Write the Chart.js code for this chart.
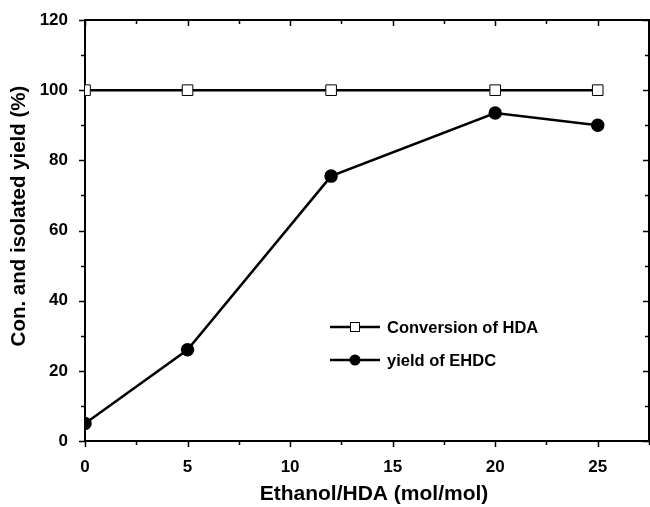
<!DOCTYPE html>
<html>
<head>
<meta charset="utf-8">
<script src="https://cdn.jsdelivr.net/npm/chart.js@4"></script>
<style>
  html, body { margin: 0; padding: 0; background: #fff; }
  #wrap { width: 650px; height: 507px; }
</style>
</head>
<body>
<div id="wrap"><canvas id="myChart" width="650" height="507"></canvas></div>
<script>
// Data
const ratios = [0, 5, 12, 20, 25];
const conversionHDA = [100, 100, 100, 100, 100];
const yieldEHDC = [5, 26, 75.5, 93.5, 90];
const xTicks = [0, 5, 10, 15, 20, 25];
const yTicks = [0, 20, 40, 60, 80, 100, 120];

const FONT = 'Liberation Sans, Arial, sans-serif';

const toPoints = (xs, ys) => xs.map((x, i) => ({ x: x, y: ys[i] }));

// Frame: top/right border, inward+outward ticks (major and minor), axis titles, legend
const framePlugin = {
    id: 'frame',
    afterDraw(chart) {
        const { ctx, chartArea: a, scales: { x, y } } = chart;
        ctx.save();
        ctx.strokeStyle = '#000';
        ctx.lineWidth = 2;
        ctx.beginPath();
        ctx.moveTo(a.left, a.top);
        ctx.lineTo(a.right, a.top);
        ctx.lineTo(a.right, a.bottom);
        ctx.stroke();

        ctx.lineWidth = 1.5;
        ctx.beginPath();
        for (let v = 0; v <= 27.5; v += 2.5) {
            const px = Math.round(x.getPixelForValue(v)) + 0.5;
            const len = v % 5 === 0 ? 6 : 4;
            ctx.moveTo(px, a.bottom); ctx.lineTo(px, a.bottom + len);
            ctx.moveTo(px, a.top); ctx.lineTo(px, a.top + len);
        }
        for (let v = 0; v <= 120; v += 10) {
            const py = Math.round(y.getPixelForValue(v)) + 0.5;
            const len = v % 20 === 0 ? 6 : 4;
            ctx.moveTo(a.left, py); ctx.lineTo(a.left - len, py);
            ctx.moveTo(a.right, py); ctx.lineTo(a.right - len, py);
        }
        ctx.stroke();

        ctx.fillStyle = '#000';
        ctx.textAlign = 'center';
        ctx.textBaseline = 'middle';

        // x axis title
        ctx.font = 'bold 21px ' + FONT;
        ctx.fillText('Ethanol/HDA (mol/mol)', 374, 494);

        // y axis title
        ctx.save();
        ctx.translate(19, 216);
        ctx.rotate(-Math.PI / 2);
        ctx.font = 'bold 20.5px ' + FONT;
        ctx.fillText('Con. and isolated yield (%)', 0, 0);
        ctx.restore();

        // legend
        const items = [
            { label: 'Conversion of HDA', style: 'rect', y: 327 },
            { label: 'yield of EHDC', style: 'circle', y: 360 }
        ];
        ctx.font = 'bold 16.5px ' + FONT;
        ctx.textAlign = 'left';
        items.forEach(it => {
            ctx.lineWidth = 2.5;
            ctx.beginPath();
            ctx.moveTo(330, it.y); ctx.lineTo(380, it.y);
            ctx.stroke();
            if (it.style === 'rect') {
                ctx.fillStyle = '#fff';
                ctx.fillRect(350, it.y - 5, 10, 10);
                ctx.lineWidth = 1;
                ctx.strokeRect(350.5, it.y - 4.5, 9, 9);
            } else {
                ctx.fillStyle = '#000';
                ctx.beginPath();
                ctx.arc(355, it.y, 5.5, 0, Math.PI * 2);
                ctx.fill();
            }
            ctx.fillStyle = '#000';
            ctx.fillText(it.label, 387, it.y + 1);
        });
        ctx.restore();
    }
};

const data = {
    datasets: [
        {
            label: 'Conversion of HDA',
            data: toPoints(ratios, conversionHDA),
            borderColor: '#000',
            borderWidth: 2.5,
            backgroundColor: '#fff',
            pointStyle: 'rect',
            pointRadius: 7.5,
            pointBorderWidth: 1,
            pointBorderColor: '#000',
            showLine: true,
            tension: 0
        },
        {
            label: 'yield of EHDC',
            data: toPoints(ratios, yieldEHDC),
            borderColor: '#000',
            borderWidth: 2.5,
            backgroundColor: '#000',
            pointStyle: 'circle',
            pointRadius: 5.5,
            showLine: true,
            tension: 0
        }
    ]
};

const config = {
    type: 'scatter',
    data: data,
    options: {
        responsive: false,
        animation: false,
        layout: { autoPadding: false, padding: { top: 20, right: 1, left: 0, bottom: 0 } },
        plugins: {
            legend: { display: false },
            tooltip: { enabled: false }
        },
        scales: {
            x: {
                type: 'linear',
                min: 0,
                max: 27.5,
                afterFit: s => {
                    s.height = 66;
                    s.paddingLeft = 0;
                    s.paddingRight = 0;
                },
                afterBuildTicks: s => { s.ticks = xTicks.map(v => ({ value: v })); },
                grid: { display: false },
                border: { display: true, color: '#000', width: 2 },
                ticks: {
                    color: '#000',
                    padding: 8,
                    font: { family: FONT, size: 17, weight: 'bold' }
                },
                title: { display: false }
            },
            y: {
                min: 0,
                max: 120,
                afterFit: s => {
                    s.width = 85;
                    s.paddingTop = 0;
                    s.paddingBottom = 0;
                },
                afterBuildTicks: s => { s.ticks = yTicks.map(v => ({ value: v })); },
                grid: { display: false },
                border: { display: true, color: '#000', width: 2 },
                ticks: {
                    color: '#000',
                    padding: 9,
                    font: { family: FONT, size: 17, weight: 'bold' }
                },
                title: { display: false }
            }
        }
    },
    plugins: [framePlugin]
};

const ctx = document.getElementById('myChart').getContext('2d');
const myChart = new Chart(ctx, config);
</script>
</body>
</html>
